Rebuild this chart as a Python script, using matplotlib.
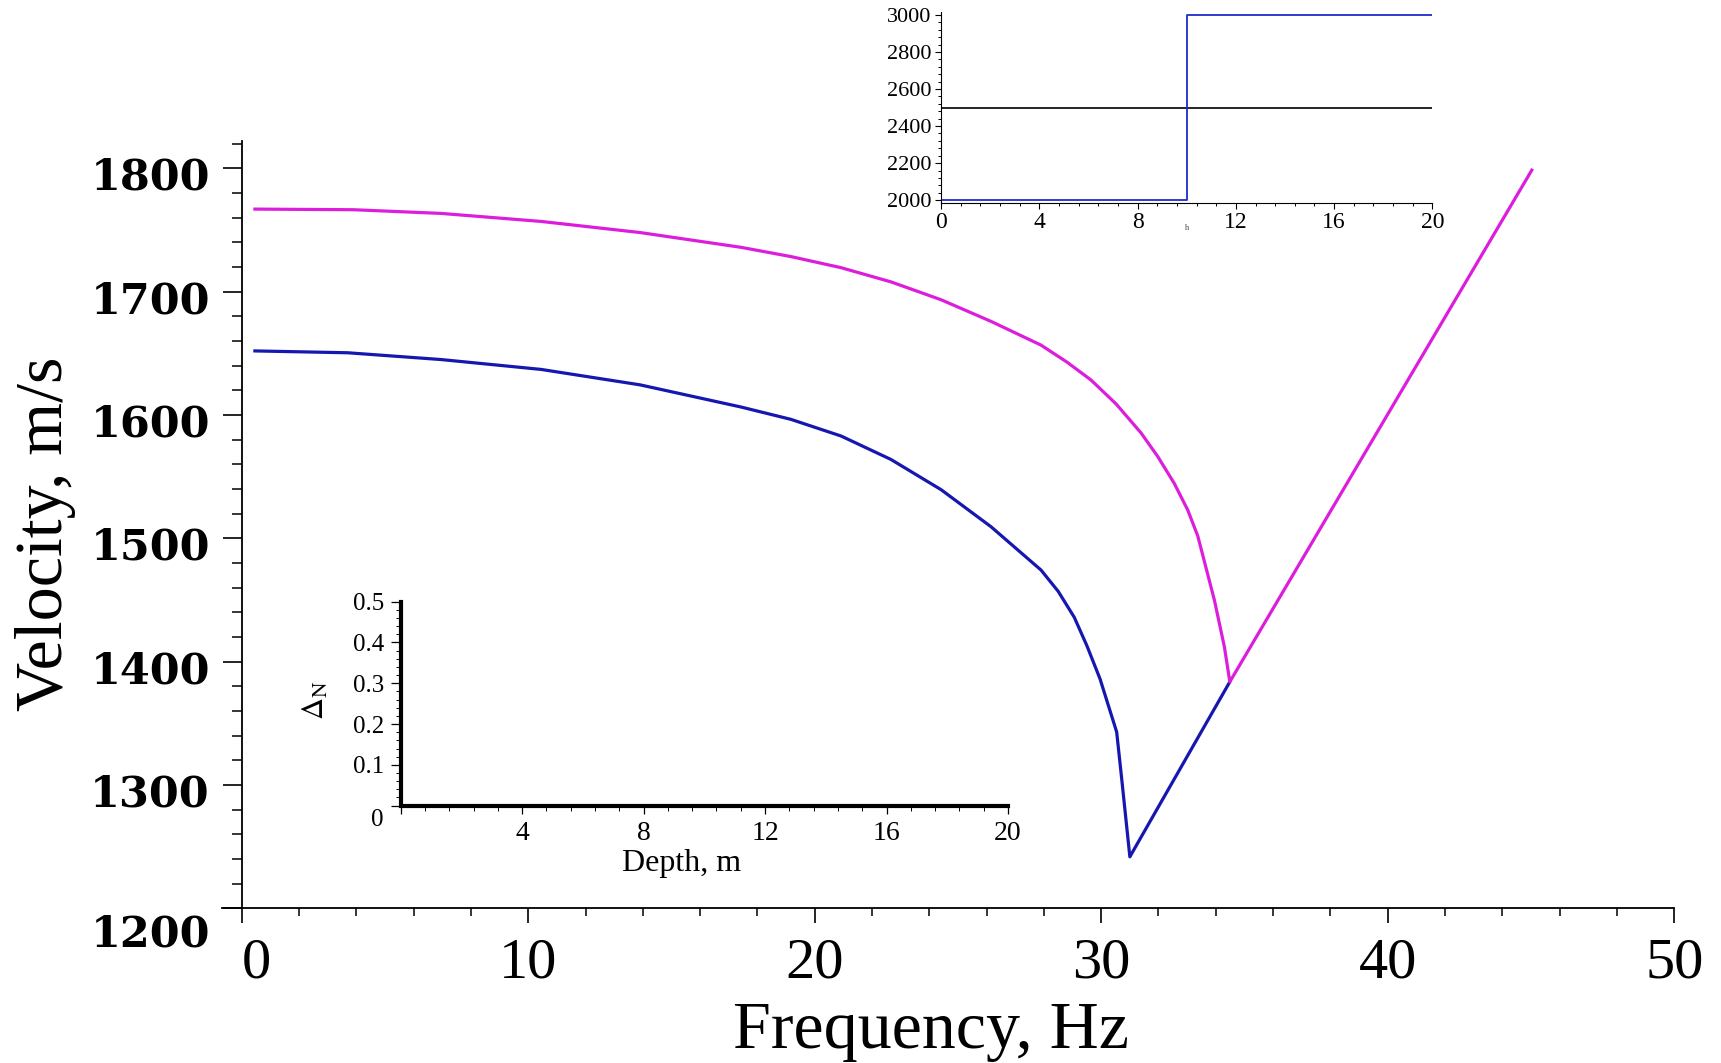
import matplotlib
matplotlib.use("Agg")
import matplotlib.pyplot as plt
from matplotlib.ticker import MultipleLocator
from matplotlib.transforms import ScaledTranslation

plt.rcParams["font.family"] = ["Liberation Serif", "DejaVu Serif"]
plt.rcParams["mathtext.fontset"] = "stix"

# dispersion curves, frequency (Hz) vs velocity (m/s)
freq_upper = [0.46, 3.9, 6.96, 10.45, 13.9, 17.43, 19.17, 20.92, 22.66, 24.41,
              26.15, 27.9, 28.8, 29.64, 30.52, 31.39, 31.97, 32.55, 33.02,
              33.37, 33.95, 34.3, 34.49, 45.03]
vel_upper = [1767, 1766.5, 1763.5, 1757, 1748, 1736, 1728.5, 1719.5, 1708,
             1693.5, 1676, 1656.7, 1643, 1628.5, 1609, 1585.5, 1566.5, 1544.6,
             1523, 1502, 1450, 1412, 1383.7, 1798.6]

freq_lower = [0.46, 3.7, 6.96, 10.45, 13.9, 17.43, 19.17, 20.92, 22.66, 24.41,
              26.15, 27.9, 28.5, 29.06, 29.5, 29.96, 30.54, 30.72, 31.0, 34.49]
vel_lower = [1652, 1650.5, 1645, 1637, 1624.5, 1606.5, 1596.5, 1583, 1564,
             1539.5, 1509.5, 1474.3, 1457, 1436, 1413, 1386, 1343, 1304,
             1241.8, 1383.7]

x_ticks = [0, 10, 20, 30, 40, 50]
y_ticks = [1200, 1300, 1400, 1500, 1600, 1700, 1800]

# top inset: velocity profile
depth_step = [0, 10, 10, 20]
vel_step = [2000, 2000, 3000, 3000]
depth_const = [0, 20]
vel_const = [2500, 2500]
top_xticks = [0, 4, 8, 12, 16, 20]
top_yticks = [2000, 2200, 2400, 2600, 2800, 3000]

# bottom inset: Delta_N vs depth
depth_delta = [0, 0, 20]
delta_n = [0.5, 0, 0]
bot_xticks = [0, 4, 8, 12, 16, 20]
bot_xlabels = ["", "4", "8", "12", "16", "20"]
bot_yticks = [0, 0.1, 0.2, 0.3, 0.4, 0.5]
bot_ylabels = ["0", "0.1", "0.2", "0.3", "0.4", "0.5"]

fig = plt.figure(figsize=(17.21, 10.63), dpi=100)


def shift(label, dx, dy):
    label.set_transform(label.get_transform() +
                        ScaledTranslation(dx / 100, dy / 100, fig.dpi_scale_trans))


# ---- main plot
ax = fig.add_axes([0.1288, 0.1455, 0.8440, 0.7216])
ax.plot(freq_lower, vel_lower, color="#1616B0", lw=2.3)
ax.plot(freq_upper, vel_upper, color="#DC1EDC", lw=2.3)
ax.set_xlim(-0.7, 50)
ax.set_ylim(1200, 1822)
ax.spines["top"].set_visible(False)
ax.spines["right"].set_visible(False)
ax.spines["left"].set_position(("data", 0))
for s in ("left", "bottom"):
    ax.spines[s].set_linewidth(1.3)

ax.set_xticks(x_ticks)
ax.set_yticks(y_ticks)
ax.xaxis.set_minor_locator(MultipleLocator(2))
ax.yaxis.set_minor_locator(MultipleLocator(20))
ax.tick_params(axis="x", which="major", length=11, width=1.2, pad=10, labelsize=42)
ax.tick_params(axis="x", which="minor", length=6, width=1.1)
ax.tick_params(axis="y", which="major", length=14, width=1.2, pad=9)
ax.tick_params(axis="y", which="minor", length=7, width=1.1)
for lab in ax.get_yticklabels():
    lab.set_fontfamily("DejaVu Serif")
    lab.set_fontweight("bold")
    lab.set_fontsize(31)
    shift(lab, 0, -5)
shift(ax.get_yticklabels()[0], 0, -17)
shift(ax.get_xticklabels()[0], 15, 0)

ax.set_xlabel("Frequency, Hz", fontsize=49, va="center")
ax.xaxis.set_label_coords(0.4883, -0.1600)
ax.set_ylabel("Velocity, m/s", fontsize=49, va="center")
ax.yaxis.set_label_coords(-0.1213, 0.488)

# ---- top inset
axt = fig.add_axes([0.5468, 0.8093, 0.2855, 0.1797])
axt.plot(depth_const, vel_const, color="black", lw=1.2)
axt.plot(depth_step, vel_step, color="#1C2CC8", lw=1.3)
axt.set_xlim(0, 20)
axt.set_ylim(1986, 3018)
axt.spines["top"].set_visible(False)
axt.spines["right"].set_visible(False)
axt.set_xticks(top_xticks)
axt.set_yticks(top_yticks)
axt.xaxis.set_minor_locator(MultipleLocator(0.8))
axt.yaxis.set_minor_locator(MultipleLocator(40))
axt.tick_params(which="major", length=4.5, width=0.8, pad=2.5, labelsize=16)
axt.tick_params(which="minor", length=2.5, width=0.7)
axt.tick_params(axis="x", labelsize=17)
axt.annotate("h", xy=(10, 0), xycoords=("data", "axes fraction"),
             xytext=(0, -18), textcoords="offset points",
             ha="center", va="center", fontsize=6, color="#444444")

# ---- bottom inset
axb = fig.add_axes([0.2328, 0.2421, 0.3529, 0.1919])
axb.plot(depth_delta, delta_n, color="black", lw=3, clip_on=False,
         solid_joinstyle="miter")
axb.set_xlim(0, 20)
axb.set_ylim(0, 0.5)
axb.patch.set_alpha(0)
axb.spines["top"].set_visible(False)
axb.spines["right"].set_visible(False)
axb.set_xticks(bot_xticks, bot_xlabels)
axb.set_yticks(bot_yticks, bot_ylabels)
axb.xaxis.set_minor_locator(MultipleLocator(0.8))
axb.yaxis.set_minor_locator(MultipleLocator(0.02))
axb.tick_params(axis="x", which="major", length=6, width=0.9, pad=5, labelsize=20)
axb.tick_params(axis="y", which="major", length=7, width=0.9, pad=5, labelsize=18)
axb.tick_params(which="minor", length=3.5, width=0.7)
shift(axb.get_yticklabels()[0], 0, -12)
axb.set_xlabel("Depth, m", fontsize=23, va="center")
axb.xaxis.set_label_coords(0.4627, -0.285)
axb.set_ylabel(r"$\Delta_{\mathrm{N}}$", fontsize=22, va="center")
axb.yaxis.set_label_coords(-0.1383, 0.518)

fig.savefig("out.png", dpi=100)
